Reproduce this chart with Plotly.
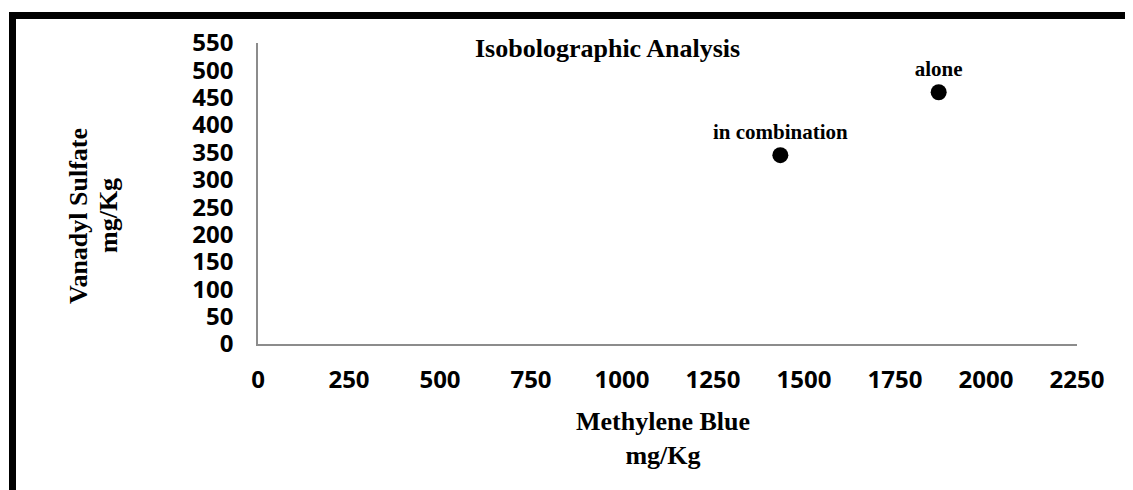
import plotly.graph_objects as go

labels = ["in combination", "alone"]
methylene_blue = [1435, 1870]
vanadyl_sulfate = [345, 460]

x_ticks = [0, 250, 500, 750, 1000, 1250, 1500, 1750, 2000, 2250]
y_ticks = [0, 50, 100, 150, 200, 250, 300, 350, 400, 450, 500, 550]

OFF = 8  # default page body margin
W, H = 1133 - OFF, 490 - OFF
L, R, T, B = 258 - OFF, 1133 - 1077, 43 - OFF, 490 - 344
pw, ph = W - L - R, H - T - B

def px_to_paper_x(px):
    return (px - OFF - L) / pw

def px_to_paper_y(py):
    return (H - B - (py - OFF)) / ph

fig = go.Figure()
fig.add_trace(go.Scatter(
    x=methylene_blue, y=vanadyl_sulfate, mode="markers+text",
    text=labels, textposition="top center",
    textfont=dict(family="Liberation Serif", size=21, color="black"),
    texttemplate="<b>%{text}</b>",
    marker=dict(color="black", size=16),
    cliponaxis=False, showlegend=False, hoverinfo="skip",
))

tickfont = dict(family="Open Sans", size=24, color="black", weight="bold")

fig.update_layout(
    width=W, height=H,
    margin=dict(l=L, r=R, t=T, b=B, autoexpand=False),
    paper_bgcolor="white", plot_bgcolor="white",
    xaxis=dict(range=[0, 2250], tickvals=x_ticks, ticktext=[str(v) for v in x_ticks],
               showgrid=False, zeroline=False, showline=True, linecolor="#8c8c8c",
               linewidth=1.5, ticks="", tickfont=tickfont, ticklabelstandoff=13),
    yaxis=dict(range=[0, 550], tickvals=y_ticks, ticktext=[str(v) for v in y_ticks],
               showgrid=False, zeroline=False, showline=True, linecolor="#8c8c8c",
               linewidth=1.5, ticks="", tickfont=tickfont, ticklabelstandoff=18),
)

title_font = dict(family="Liberation Serif", size=26, color="black")
fig.add_annotation(text="<b>Isobolographic Analysis</b>", xref="paper", yref="paper",
                   x=px_to_paper_x(607), y=px_to_paper_y(48), showarrow=False,
                   font=title_font, xanchor="center", yanchor="middle")
fig.add_annotation(text="<b>Methylene Blue</b><br><b>mg/Kg</b>", xref="paper", yref="paper",
                   x=px_to_paper_x(663), y=px_to_paper_y(438), showarrow=False,
                   font=title_font, xanchor="center", yanchor="middle")
fig.add_annotation(text="<b>Vanadyl Sulfate</b>", xref="paper", yref="paper",
                   x=px_to_paper_x(78), y=px_to_paper_y(216), showarrow=False, textangle=-90,
                   font=title_font, xanchor="center", yanchor="middle")
fig.add_annotation(text="<b>mg/Kg</b>", xref="paper", yref="paper",
                   x=px_to_paper_x(108), y=px_to_paper_y(216), showarrow=False, textangle=-90,
                   font=title_font, xanchor="center", yanchor="middle")

# outer frame (top and left edges only)
x0, y0 = px_to_paper_x(12.5), px_to_paper_y(15.5)
x1, y1 = px_to_paper_x(1145), px_to_paper_y(500)
fig.add_shape(type="path", xref="paper", yref="paper",
              path=f"M {x0} {y1} L {x0} {y0} L {x1} {y0}",
              line=dict(color="black", width=7))

fig.write_html("out.html")
